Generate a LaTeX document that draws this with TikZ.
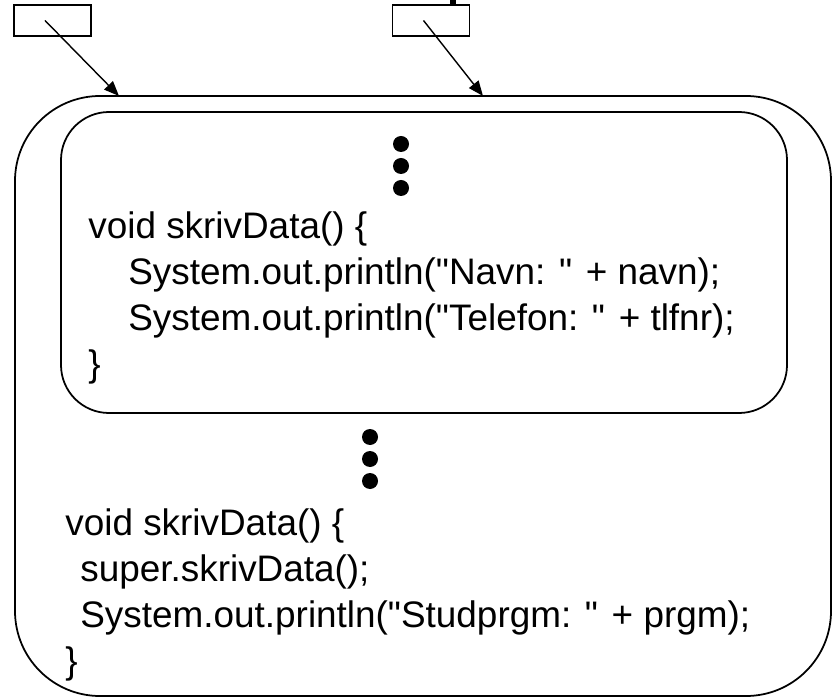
\documentclass[tikz,border=0pt]{standalone}
\usepackage{fontspec}
\setmainfont{Liberation Sans}
\usetikzlibrary{arrows.meta,positioning}

\newcommand{\dq}{\textquotedbl}

\begin{document}
\begin{tikzpicture}[
    refbox/.style={draw, line width=1pt, minimum width=1.54cm, minimum height=0.62cm, inner sep=0pt},
    frame/.style={draw, line width=1pt, rounded corners=#1, inner sep=0pt},
    code/.style={anchor=north west, inner sep=0pt, align=left, font=\fontsize{21}{26.2}\selectfont},
    dot/.style={circle, fill, inner sep=0pt, minimum size=0.32cm},
    ptr/.style={-{Triangle[length=0.3cm, width=0.24cm]}, line width=0.8pt}
]
\useasboundingbox (0,0) rectangle (16.78,13.94);

% the two references
\node[refbox] (lref) at (1.05,13.53) {};
\node[refbox] (rref) at (8.62,13.53) {};
\fill (9.0,13.82) rectangle (9.12,13.94);

% object and inner part
\node[frame=1.7cm, minimum width=16.32cm, minimum height=12cm] (obj) at (8.46,6.02) {};
\node[frame=0.96cm, minimum width=14.52cm, minimum height=6.02cm] (part) at (8.48,8.69) {};

\coordinate (ltip) at (2.38,12.02);
\coordinate (rtip) at (9.66,12.02);
\draw[ptr] ([xshift=-0.15cm]lref.center) -- (ltip);
\draw[ptr] ([xshift=-0.15cm]rref.center) -- (rtip);

\foreach \y [count=\i] in {11.06,10.62,10.18}
    \node[dot] (udot\i) at (8.02,\y) {};
\foreach \y [count=\i] in {5.2,4.76,4.32}
    \node[dot] (ldot\i) at (7.4,\y) {};

\node[code] (ucode) at (1.76,9.72) {void skrivData() \{\\
\hspace*{0.8cm}System.out.println(\dq Navn: \dq{} + navn);\\
\hspace*{0.8cm}System.out.println(\dq Telefon: \dq{} + tlfnr);\\
\}};
\node[code] (lcode) at (1.3,3.78) {void skrivData() \{\\
\hspace*{0.3cm}super.skrivData();\\
\hspace*{0.3cm}System.out.println(\dq Studprgm: \dq{} + prgm);\\
\}};
\end{tikzpicture}
\end{document}
